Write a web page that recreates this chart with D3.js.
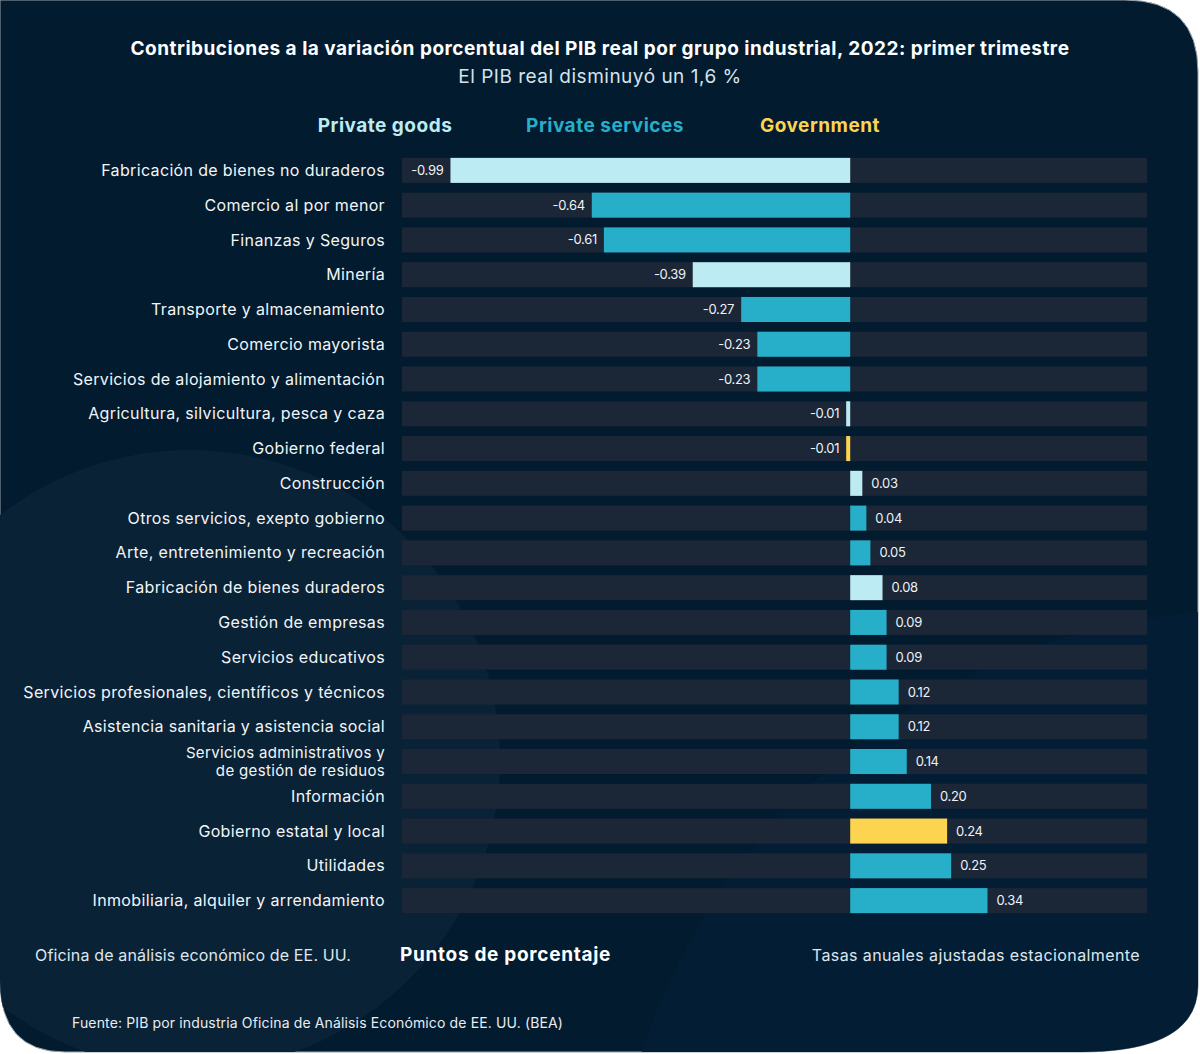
<!DOCTYPE html>
<html>
<head>
<meta charset="utf-8">
<script src="https://cdn.jsdelivr.net/npm/d3@7"></script>
<style>
  body { margin: 0; background: #ffffff; }
  svg { display: block; }
  text { font-family: Inter, "Noto Sans", sans-serif; }
</style>
</head>
<body>
<div id="container"></div>
<script>
const W = 1200
const H = 1054

const categories = [
  'Fabricación de bienes no duraderos',
  'Comercio al por menor',
  'Finanzas y Seguros',
  'Minería',
  'Transporte y almacenamiento',
  'Comercio mayorista',
  'Servicios de alojamiento y alimentación',
  'Agricultura, silvicultura, pesca y caza',
  'Gobierno federal',
  'Construcción',
  'Otros servicios, exepto gobierno',
  'Arte, entretenimiento y recreación',
  'Fabricación de bienes duraderos',
  'Gestión de empresas',
  'Servicios educativos',
  'Servicios profesionales, científicos y técnicos',
  'Asistencia sanitaria y asistencia social',
  'Servicios administrativos y|de gestión de residuos',
  'Información',
  'Gobierno estatal y local',
  'Utilidades',
  'Inmobiliaria, alquiler y arrendamiento'
]
const values = [-0.99, -0.64, -0.61, -0.39, -0.27, -0.23, -0.23, -0.01, -0.01,
  0.03, 0.04, 0.05, 0.08, 0.09, 0.09, 0.12, 0.12, 0.14, 0.20, 0.24, 0.25, 0.34]
const groups = ['goods', 'services', 'services', 'goods', 'services', 'services', 'services',
  'goods', 'gov', 'goods', 'services', 'services', 'goods', 'services', 'services',
  'services', 'services', 'services', 'services', 'gov', 'services', 'services']

const groupNames = ['Private goods', 'Private services', 'Government']
const groupKeys = ['goods', 'services', 'gov']
const groupColors = ['#bdebf3', '#27afca', '#fdd450']

const color = d3.scaleOrdinal().domain(groupKeys).range(groupColors)

var svg = d3.select('#container').append('svg')
  .attr('width', W)
  .attr('height', H)

// panel with uneven rounded corners
var panel = d3.path()
panel.moveTo(0, 0)
panel.lineTo(1125, 0)
panel.quadraticCurveTo(1198, 0, 1198, 72)
panel.lineTo(1198, 985)
panel.quadraticCurveTo(1198, 1052, 1080, 1052)
panel.lineTo(65, 1052)
panel.quadraticCurveTo(0, 1052, 0, 980)
panel.closePath()

svg.append('clipPath').attr('id', 'panelclip')
  .append('path').attr('d', panel.toString())

svg.append('path')
  .attr('d', panel.toString())
  .attr('fill', '#021b2e')
  .attr('stroke', '#9aa3ab')
  .attr('stroke-width', 1)

var deco = svg.append('g').attr('clip-path', 'url(#panelclip)')
deco.append('circle')
  .attr('cx', 190).attr('cy', 760).attr('r', 310)
  .attr('fill', '#0a2236')
deco.append('circle')
  .attr('cx', 1250).attr('cy', 1250).attr('r', 640)
  .attr('fill', '#031e34')

// title
svg.append('text')
  .attr('x', 600).attr('y', 55)
  .attr('text-anchor', 'middle')
  .attr('font-size', 19).attr('font-weight', 700)
  .attr('letter-spacing', 0.5)
  .attr('fill', '#ffffff')
  .text('Contribuciones a la variación porcentual del PIB real por grupo industrial, 2022: primer trimestre')

svg.append('text')
  .attr('x', 600).attr('y', 83)
  .attr('text-anchor', 'middle')
  .attr('font-size', 19)
  .attr('letter-spacing', 0.5)
  .attr('fill', '#d6e2ea')
  .text('El PIB real disminuyó un 1,6 %')

// legend
var legendX = [385, 605, 820]
svg.selectAll('.legend')
  .data(groupNames)
  .join('text')
  .attr('class', 'legend')
  .attr('x', (d, i) => legendX[i])
  .attr('y', 132)
  .attr('text-anchor', 'middle')
  .attr('font-size', 19).attr('font-weight', 700)
  .attr('letter-spacing', 0.5)
  .attr('fill', (d, i) => groupColors[i])
  .text(d => d)

// scales
var x = d3.scaleLinear().domain([-1.11, 0.735]).range([402, 1147])
var y = d3.scaleBand().domain(categories).range([153, 918])
  .paddingInner(0.28).paddingOuter(0.14)

var rows = categories.map((c, i) => ({cat: c, val: values[i], grp: groups[i]}))

// tracks
svg.selectAll('.track')
  .data(rows)
  .join('rect')
  .attr('class', 'track')
  .attr('x', x.range()[0])
  .attr('y', d => y(d.cat))
  .attr('width', x.range()[1] - x.range()[0])
  .attr('height', y.bandwidth())
  .attr('fill', '#1b2636')

// bars
svg.selectAll('.bar')
  .data(rows)
  .join('rect')
  .attr('class', 'bar')
  .attr('x', d => x(Math.min(0, d.val)))
  .attr('y', d => y(d.cat))
  .attr('width', d => Math.abs(x(d.val) - x(0)))
  .attr('height', y.bandwidth())
  .attr('fill', d => color(d.grp))

// value labels
svg.selectAll('.val')
  .data(rows)
  .join('text')
  .attr('class', 'val')
  .attr('x', d => d.val < 0 ? x(d.val) - 7 : x(d.val) + 9)
  .attr('y', d => y(d.cat) + y.bandwidth() / 2)
  .attr('dy', '0.35em')
  .attr('text-anchor', d => d.val < 0 ? 'end' : 'start')
  .attr('font-size', 13)
  .attr('letter-spacing', -0.3)
  .attr('fill', '#eef3f7')
  .text(d => d.val.toFixed(2))

// category labels, one text per line so wrapped names stay apart
var lines = []
rows.forEach(d => {
  var parts = d.cat.split('|')
  parts.forEach((p, i) => {
    lines.push({cat: d.cat, text: p, i: i, n: parts.length})
  })
})

svg.selectAll('.cat')
  .data(lines)
  .join('text')
  .attr('class', 'cat')
  .attr('x', 385)
  .attr('y', d => y(d.cat) + y.bandwidth() / 2 + (d.i - (d.n - 1) / 2) * 18)
  .attr('dy', '0.35em')
  .attr('text-anchor', 'end')
  .attr('font-size', d => d.n > 1 ? 15 : 16)
  .attr('letter-spacing', 0.35)
  .attr('fill', '#f2f5f8')
  .text(d => d.text)

// footer
svg.append('text')
  .attr('x', 35).attr('y', 961)
  .attr('font-size', 16)
  .attr('letter-spacing', 0.15)
  .attr('fill', '#dfe6ec')
  .text('Oficina de análisis económico de EE. UU.')

svg.append('text')
  .attr('x', 400).attr('y', 961)
  .attr('font-size', 19).attr('font-weight', 700)
  .attr('letter-spacing', 0.7)
  .attr('fill', '#ffffff')
  .text('Puntos de porcentaje')

svg.append('text')
  .attr('x', 1140).attr('y', 961)
  .attr('text-anchor', 'end')
  .attr('font-size', 16)
  .attr('letter-spacing', 0.4)
  .attr('fill', '#dfe6ec')
  .text('Tasas anuales ajustadas estacionalmente')

svg.append('text')
  .attr('x', 72).attr('y', 1028)
  .attr('font-size', 14)
  .attr('letter-spacing', 0.14)
  .attr('fill', '#e8edf1')
  .text('Fuente: PIB por industria Oficina de Análisis Económico de EE. UU. (BEA)')
</script>
</body>
</html>
